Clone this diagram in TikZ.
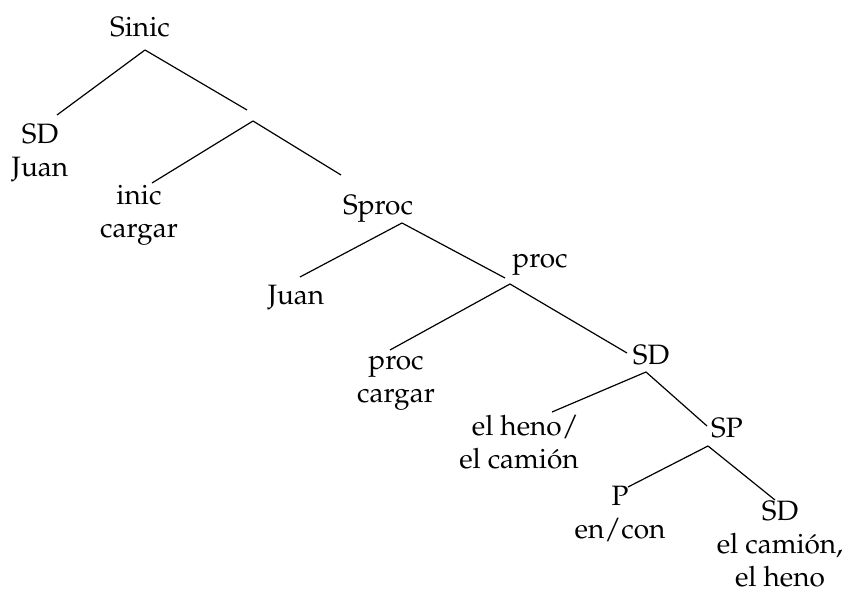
\documentclass[tikz,border=0pt]{standalone}
\usepackage[T1]{fontenc}
\usepackage{mathpazo}
\tikzset{
  syn label/.style={font=\fontsize{14}{16.5}\selectfont, align=center, inner sep=0pt},
  syn branch/.style={draw=black, line width=0.6pt}
}

\begin{document}
\begin{tikzpicture}[x=0.5pt, y=-0.5pt]
  \useasboundingbox (0,0) rectangle (846,592);
  % labels of the tree
  \node (sinic) [syn label] at (140,27) {Sinic};
  \node (sdjuan) [syn label] at (40,153) {SD\\Juan};
  \node (inic) [syn label] at (139,215) {inic\\cargar};
  \node (sproc) [syn label] at (378,209) {Sproc};
  \node (juan) [syn label] at (296,297) {Juan};
  \node (proc) [syn label] at (540,265) {proc};
  \node (proccargar) [syn label] at (396,383) {proc\\cargar};
  \node (sdA) [syn label] at (651,355) {SD};
  \node (heno) [syn label, align=right] at (519,442) {el heno/\\el cami\'on};
  \node (sp) [syn label] at (727,428) {SP};
  \node (pencon) [syn label] at (620,514) {P\\en/con};
  \node (sdB) [syn label] at (780,544) {SD\\el cami\'on,\\el heno};

  % branch points above and below the labels
  \coordinate (sinic-b) at (145,50);
  \coordinate (sdjuan-t) at (57,115);
  \coordinate (bar-t) at (247,110);
  \coordinate (bar-b) at (253,121);
  \coordinate (inic-t) at (152,183);
  \coordinate (sproc-t) at (341,175);
  \coordinate (sproc-b) at (402,223);
  \coordinate (juan-t) at (300,277);
  \coordinate (proc-t) at (505,278);
  \coordinate (proc-b) at (510,284);
  \coordinate (proccargar-t) at (390,350);
  \coordinate (sdA-t) at (627,353);
  \coordinate (sdA-b) at (646,372);
  \coordinate (heno-t) at (552,412);
  \coordinate (sp-t) at (707,426);
  \coordinate (sp-b) at (708,446);
  \coordinate (pencon-t) at (628,487);
  \coordinate (sdB-t) at (775,500);

  \draw [syn branch] (sinic-b) -- (sdjuan-t);
  \draw [syn branch] (sinic-b) -- (bar-t);
  \draw [syn branch] (bar-b) -- (inic-t);
  \draw [syn branch] (bar-b) -- (sproc-t);
  \draw [syn branch] (sproc-b) -- (juan-t);
  \draw [syn branch] (sproc-b) -- (proc-t);
  \draw [syn branch] (proc-b) -- (proccargar-t);
  \draw [syn branch] (proc-b) -- (sdA-t);
  \draw [syn branch] (sdA-b) -- (heno-t);
  \draw [syn branch] (sdA-b) -- (sp-t);
  \draw [syn branch] (sp-b) -- (pencon-t);
  \draw [syn branch] (sp-b) -- (sdB-t);
\end{tikzpicture}
\end{document}
